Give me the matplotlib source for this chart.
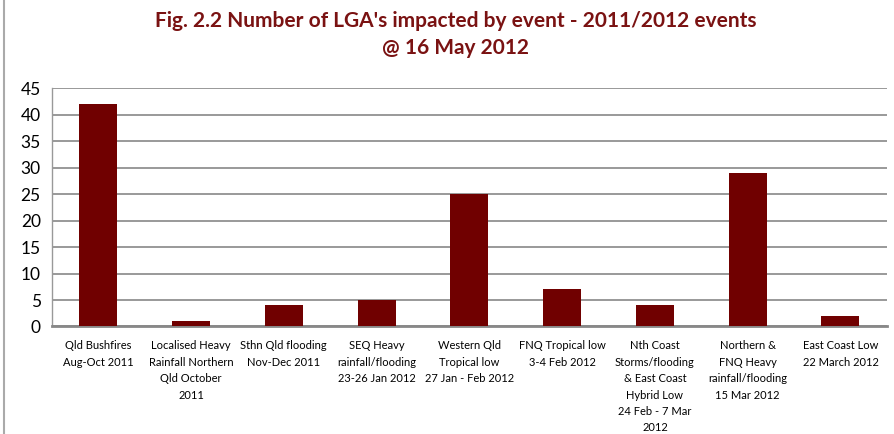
import matplotlib
matplotlib.use("Agg")
import matplotlib.pyplot as plt
from matplotlib.lines import Line2D

categories = [
    "Qld Bushfires\nAug-Oct 2011",
    "Localised Heavy\nRainfall Northern\nQld October\n2011",
    "Sthn Qld flooding\nNov-Dec 2011",
    "SEQ Heavy\nrainfall/flooding\n23-26 Jan 2012",
    "Western Qld\nTropical low\n27 Jan - Feb 2012",
    "FNQ Tropical low\n3-4 Feb 2012",
    "Nth Coast\nStorms/flooding\n& East Coast\nHybrid Low\n24 Feb - 7 Mar\n2012",
    "Northern &\nFNQ Heavy\nrainfall/flooding\n15 Mar 2012",
    "East Coast Low\n22 March 2012",
]
values = [42, 1, 4, 5, 25, 7, 4, 29, 2]
yticks = [0, 5, 10, 15, 20, 25, 30, 35, 40, 45]

plt.rcParams['font.family'] = ['Lato', 'DejaVu Sans']

fig = plt.figure(figsize=(8.94, 4.34), dpi=100)
ax = fig.add_axes([0.058, 0.2477, 0.934, 0.5493])

x = list(range(len(categories)))
ax.bar(x, values, width=0.41, color="#700000", zorder=3)
ax.set_xlim(-0.5, len(categories) - 0.5)
ax.set_ylim(0, 45)
ax.set_yticks(yticks)
ax.set_yticklabels([str(v) for v in yticks], fontsize=12.5)
ax.set_xticks(x)
ax.set_xticklabels(categories, fontsize=8, linespacing=1.6, va="top")
ax.tick_params(axis="x", length=0, pad=10)
ax.tick_params(axis="y", length=0, pad=8)
ax.grid(axis="y", color="#999999", linewidth=1.4, zorder=0)
for s in ["top", "right"]:
    ax.spines[s].set_visible(False)
ax.spines["left"].set_color("#999999")
ax.spines["left"].set_linewidth(1.0)
ax.spines["bottom"].set_color("#888888")
ax.spines["bottom"].set_linewidth(2.0)

fig.text(0.51, 0.975, "Fig. 2.2 Number of LGA's impacted by event - 2011/2012 events\n@ 16 May 2012",
         ha="center", va="top", fontsize=15, fontweight="bold", color="#7A1212",
         linespacing=1.45)

fig.add_artist(Line2D([0.004, 0.004], [0, 1], transform=fig.transFigure,
                      color="#aaaaaa", linewidth=1.5))

fig.savefig("out.png", dpi=100)
